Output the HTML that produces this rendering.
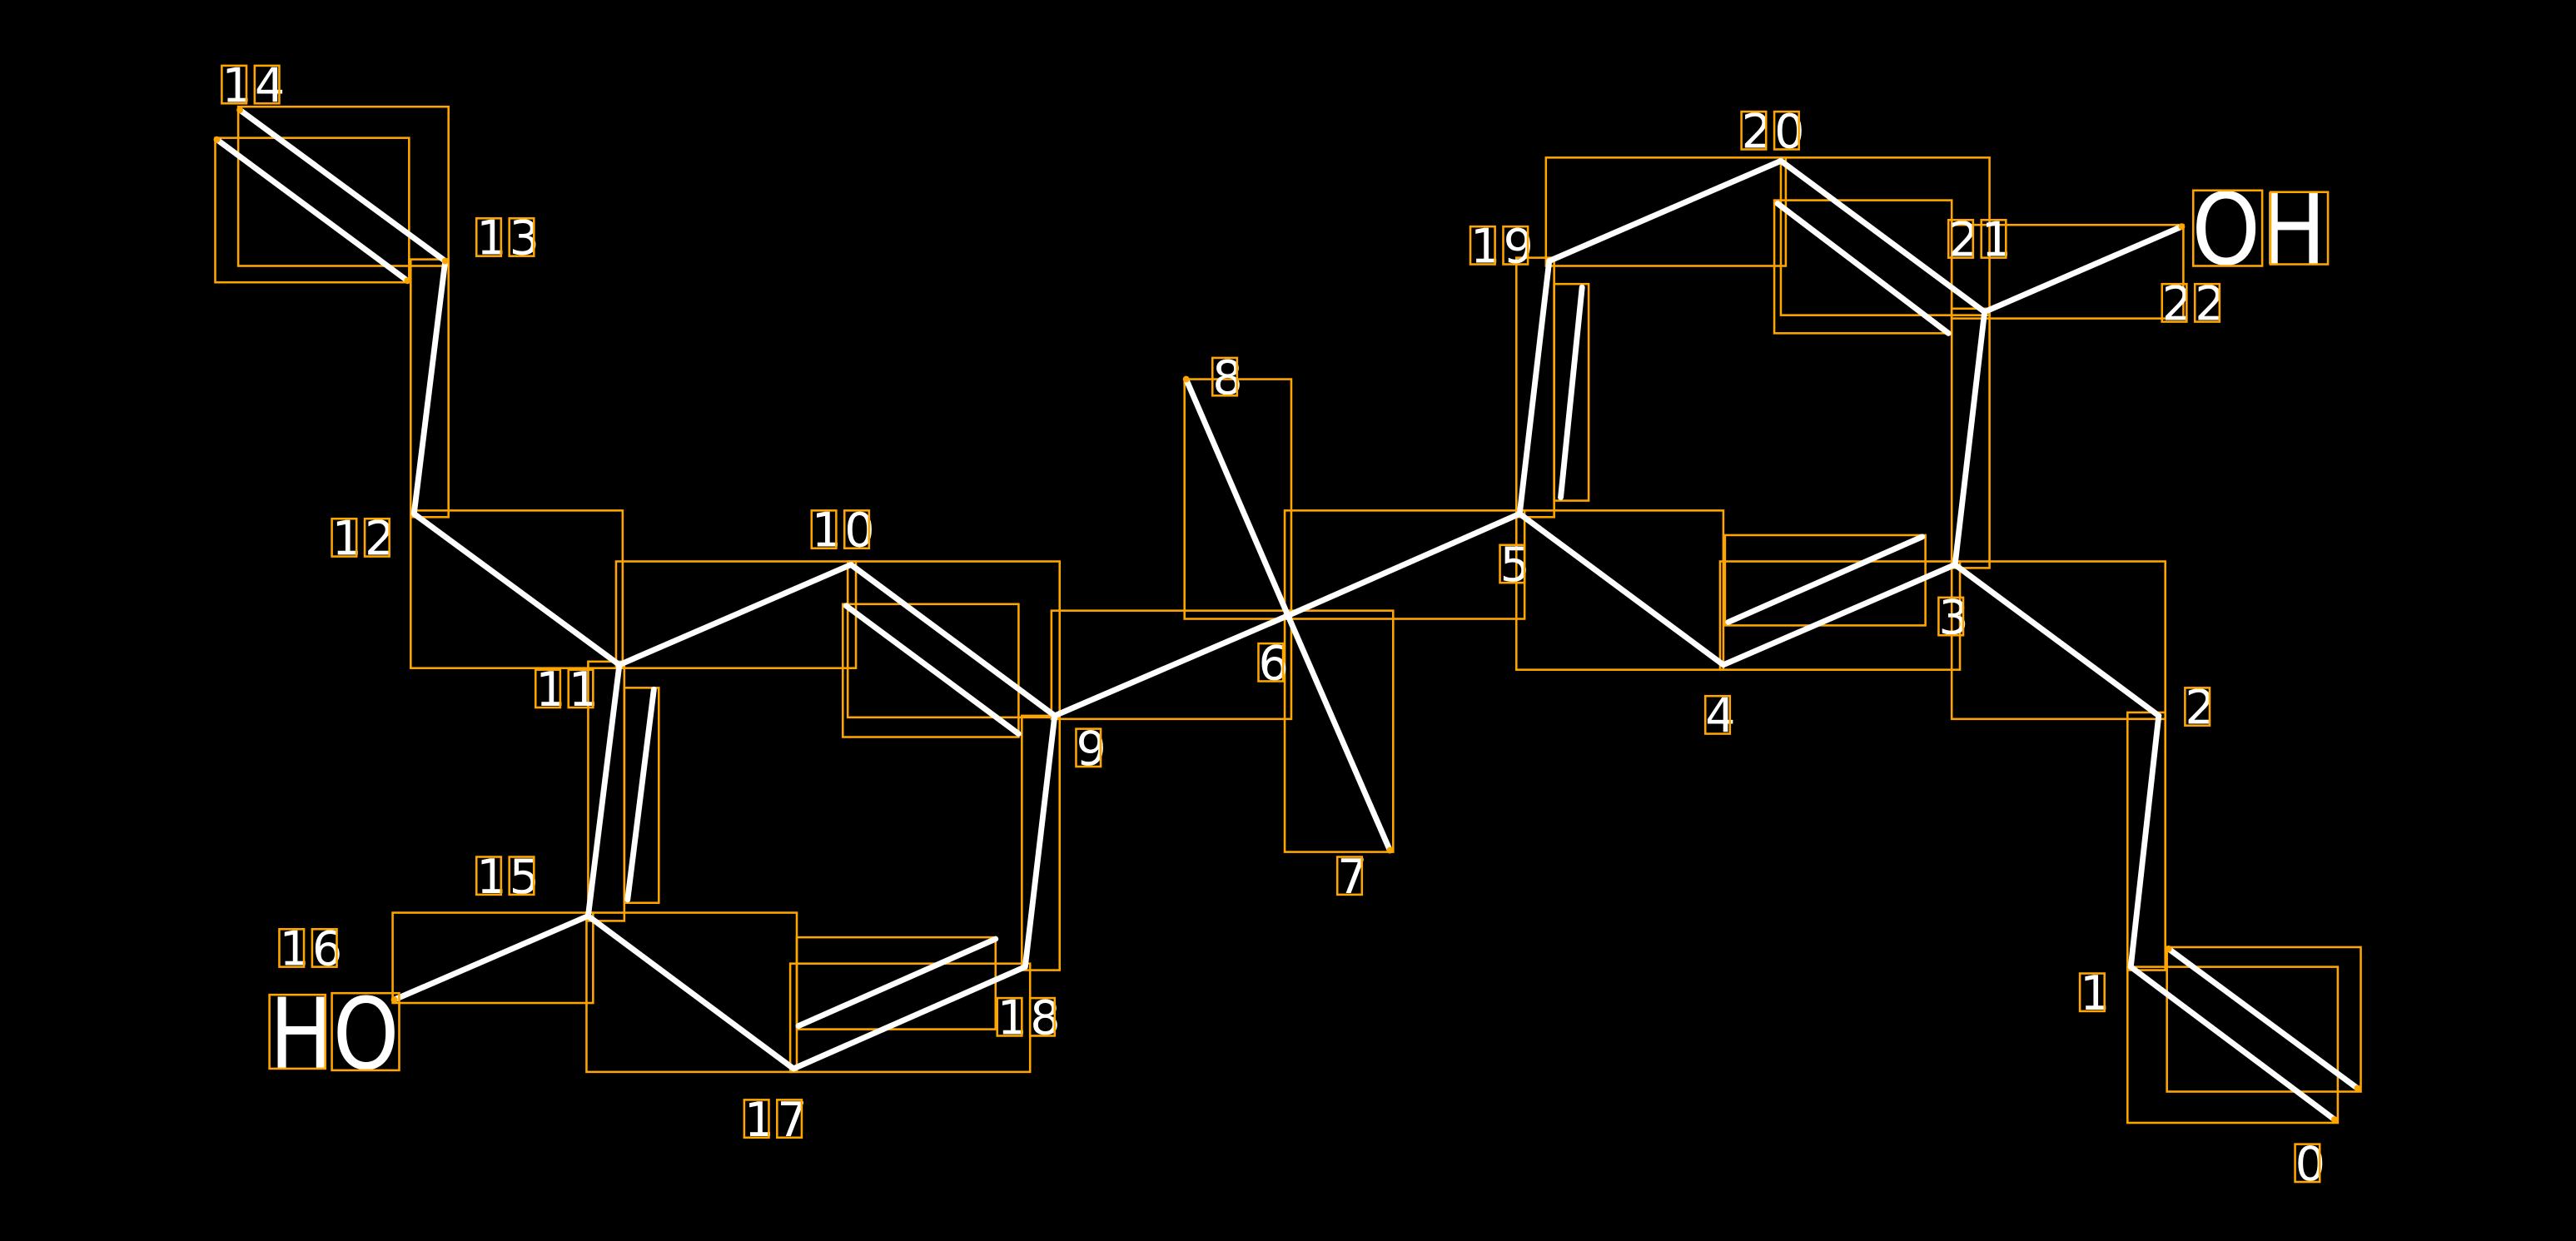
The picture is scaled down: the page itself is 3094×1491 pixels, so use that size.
<!DOCTYPE html>
<html><head><meta charset="utf-8"><style>
html,body{margin:0;padding:0;background:#000;}
svg{display:block;}
</style></head><body>
<svg id="s" width="3094" height="1491" viewBox="0 0 1568 756" preserveAspectRatio="none" xmlns="http://www.w3.org/2000/svg">
<rect width="1568" height="756" fill="#000"/>
<g fill="none" stroke="#FFA500" stroke-width="1.3">
<rect x="145" y="65" width="128" height="97"/>
<rect x="131" y="84" width="118" height="88"/>
<rect x="250" y="158" width="23" height="157"/>
<rect x="250" y="311" width="129" height="96"/>
<rect x="375" y="342" width="146" height="65"/>
<rect x="516" y="342" width="129" height="95"/>
<rect x="513" y="368" width="107" height="81"/>
<rect x="358" y="403" width="22" height="158"/>
<rect x="380" y="419" width="21" height="131"/>
<rect x="239" y="556" width="122" height="55"/>
<rect x="357" y="556" width="128" height="97"/>
<rect x="481" y="587" width="146" height="66"/>
<rect x="485" y="571" width="121" height="56"/>
<rect x="622" y="436" width="23" height="155"/>
<rect x="640" y="372" width="146" height="66"/>
<rect x="721" y="231" width="65" height="146"/>
<rect x="782" y="372" width="66" height="147"/>
<rect x="782" y="311" width="146" height="66"/>
<rect x="923" y="311" width="126" height="97"/>
<rect x="1047" y="342" width="146" height="66"/>
<rect x="1050" y="326" width="122" height="55"/>
<rect x="923" y="157" width="23" height="158"/>
<rect x="946" y="173" width="21" height="132"/>
<rect x="941" y="96" width="146" height="66"/>
<rect x="1084" y="96" width="127" height="96"/>
<rect x="1080" y="122" width="108" height="81"/>
<rect x="1188" y="137" width="141" height="57"/>
<rect x="1188" y="188" width="23" height="158"/>
<rect x="1188" y="342" width="130" height="96"/>
<rect x="1295" y="434" width="23" height="157"/>
<rect x="1295" y="589" width="128" height="95"/>
<rect x="1319" y="577" width="118" height="88"/>
</g>
<g stroke="#fff" stroke-width="3.5" stroke-linecap="round">
<line x1="1421" y1="682" x2="1297" y2="589"/>
<line x1="1435" y1="663" x2="1320" y2="578"/>
<line x1="1297" y1="589" x2="1314" y2="436"/>
<line x1="1314" y1="436" x2="1190" y2="344"/>
<line x1="1190" y1="344" x2="1049" y2="405"/>
<line x1="1052" y1="379" x2="1170" y2="327"/>
<line x1="1049" y1="405" x2="925" y2="313"/>
<line x1="925" y1="313" x2="784" y2="375"/>
<line x1="784" y1="375" x2="846" y2="518"/>
<line x1="784" y1="375" x2="722" y2="231"/>
<line x1="784" y1="375" x2="642" y2="436"/>
<line x1="642" y1="436" x2="518" y2="344"/>
<line x1="515" y1="369" x2="620" y2="447"/>
<line x1="518" y1="344" x2="377" y2="405"/>
<line x1="377" y1="405" x2="252" y2="313"/>
<line x1="252" y1="313" x2="271" y2="159"/>
<line x1="271" y1="159" x2="146" y2="67"/>
<line x1="248" y1="171" x2="132" y2="85"/>
<line x1="377" y1="405" x2="358" y2="558"/>
<line x1="382" y1="548" x2="398" y2="420"/>
<line x1="358" y1="558" x2="240" y2="609"/>
<line x1="358" y1="558" x2="483" y2="651"/>
<line x1="483" y1="651" x2="624" y2="589"/>
<line x1="486" y1="625" x2="606" y2="572"/>
<line x1="624" y1="589" x2="642" y2="436"/>
<line x1="925" y1="313" x2="943" y2="159"/>
<line x1="950" y1="303" x2="963" y2="175"/>
<line x1="943" y1="159" x2="1084" y2="98"/>
<line x1="1084" y1="98" x2="1208" y2="190"/>
<line x1="1082" y1="124" x2="1186" y2="203"/>
<line x1="1208" y1="190" x2="1328" y2="138"/>
<line x1="1208" y1="190" x2="1190" y2="344"/>
</g>
<g id="lab" fill="#fff" font-family="DejaVu Sans, Liberation Sans, sans-serif" font-size="29">
<text x="135" y="62">1</text><text x="155" y="62">4</text>
<text x="290" y="155">1</text><text x="310" y="155">3</text>
<text x="202" y="338">1</text><text x="222" y="338">2</text>
<text x="326" y="430">1</text><text x="346" y="430">1</text>
<text x="494" y="333">1</text><text x="514" y="333">0</text>
<text x="655" y="466">9</text>
<text x="738" y="240">8</text>
<text x="814" y="544">7</text>
<text x="766" y="414">6</text>
<text x="913" y="354">5</text>
<text x="1038" y="446">4</text>
<text x="1180" y="386">3</text>
<text x="1330" y="441">2</text>
<text x="1266" y="615">1</text>
<text x="1397" y="719">0</text>
<text x="290" y="544">1</text><text x="310" y="544">5</text>
<text x="170" y="588">1</text><text x="190" y="588">6</text>
<text x="453" y="692">1</text><text x="473" y="692">7</text>
<text x="607" y="630">1</text><text x="627" y="630">8</text>
<text x="895" y="160">1</text><text x="915" y="160">9</text>
<text x="1060" y="90">2</text><text x="1080" y="90">0</text>
<text x="1186" y="156">2</text><text x="1206" y="156">1</text>
<text x="1316" y="195">2</text><text x="1336" y="195">2</text>
</g>
<g fill="#fff" font-family="DejaVu Sans, Liberation Sans, sans-serif" font-size="60">
<text x="1334" y="161" textLength="82" lengthAdjust="spacingAndGlyphs">OH</text>
<text x="164" y="651" textLength="79" lengthAdjust="spacingAndGlyphs">HO</text>
</g>
<g fill="none" stroke="#FFA500" stroke-width="1.3">
<rect x="1335" y="116" width="42" height="46"/><rect x="1382" y="117" width="35" height="44"/>
<rect x="164" y="606" width="34" height="45"/><rect x="202" y="605" width="41" height="47"/>
</g>
<g id="bx" fill="none" stroke="#FFA500" stroke-width="1.3"></g>
<g fill="#FFA500">
<circle cx="1421" cy="682" r="2"/><circle cx="1435" cy="663" r="2"/><circle cx="1320" cy="578" r="2"/>
<circle cx="146" cy="67" r="2"/><circle cx="132" cy="85" r="2"/><circle cx="248" cy="171" r="2"/><circle cx="271" cy="159" r="2"/>
<circle cx="722" cy="231" r="2"/><circle cx="846" cy="518" r="2"/><circle cx="1328" cy="138" r="2"/><circle cx="240" cy="609" r="2"/>
</g>
</svg>
<script>
var bx=document.getElementById('bx');
document.querySelectorAll('#lab text').forEach(function(t){
  var x=+t.getAttribute('x'),y=+t.getAttribute('y');
  var r=document.createElementNS('http://www.w3.org/2000/svg','rect');
  r.setAttribute('x',x);r.setAttribute('y',y-22);r.setAttribute('width',15);r.setAttribute('height',23);
  bx.appendChild(r);
});
</script>
</body></html>
